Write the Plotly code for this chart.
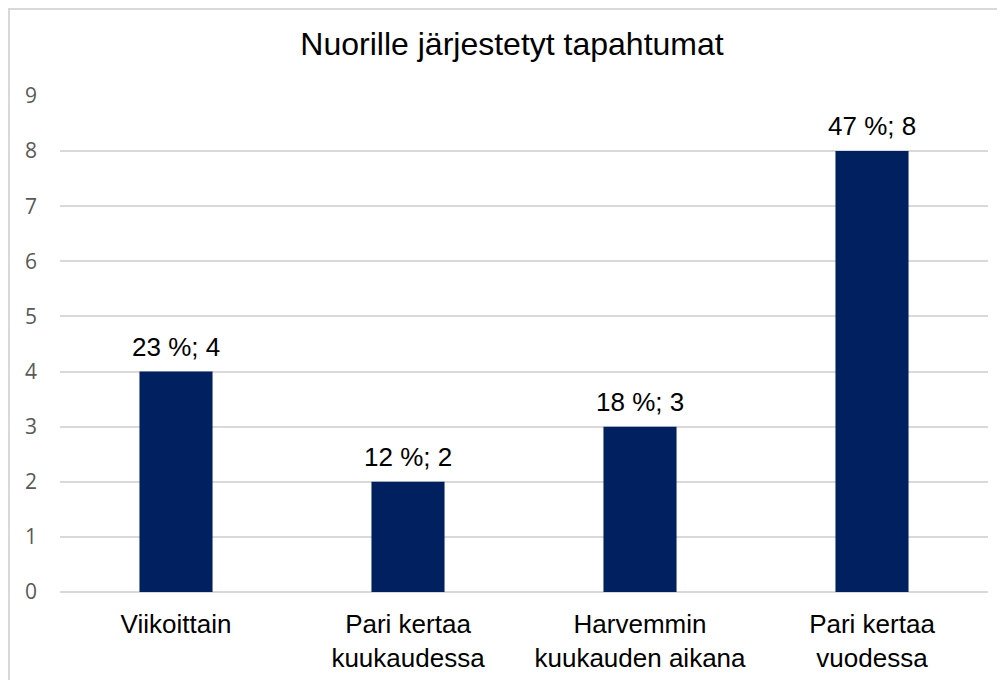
import plotly.graph_objects as go

categories = ["Viikoittain", "Pari kertaa<br>kuukaudessa", "Harvemmin<br>kuukauden aikana", "Pari kertaa<br>vuodessa"]
counts = [4, 2, 3, 8]
percents = [23, 12, 18, 47]
labels = [f"{p} %; {c}" for p, c in zip(percents, counts)]

W, H = 1005, 680
OFF = 8  # page offset of the figure
L, R, T, B = 52, 25, 88, 96
pw, ph = W - L - R, H - T - B

fig = go.Figure(go.Bar(
    x=categories, y=counts,
    marker=dict(color="#002060", line=dict(width=0)),
    width=0.315,
))

for c, v, t in zip(categories, counts, labels):
    fig.add_annotation(x=c, y=v, text=t, showarrow=False, yanchor="bottom",
                       yshift=8, font=dict(family="Liberation Sans, Arial", size=26, color="#000000"))

def px_x(x):
    return (x - OFF - L) / pw

def px_y(y):
    return (H - B - (y - OFF)) / ph

fig.update_layout(
    width=W, height=H,
    margin=dict(l=L, r=R, t=T, b=B),
    paper_bgcolor="white", plot_bgcolor="white",
    title=dict(text="Nuorille järjestetyt tapahtumat", x=(512 - OFF) / W, xanchor="center",
               y=1 - (44 - OFF) / H, yanchor="middle",
               font=dict(family="Liberation Sans, Arial", size=32, color="#000000")),
    showlegend=False,
    xaxis=dict(showgrid=False, showline=False, ticks="", ticklabelstandoff=14,
               tickfont=dict(family="Liberation Sans, Arial", size=26, color="#000000")),
    yaxis=dict(range=[0, 9], dtick=1, showgrid=True, gridcolor="#d9d9d9", gridwidth=1.5,
               zeroline=True, zerolinecolor="#d9d9d9", zerolinewidth=1.5,
               showline=False, ticks="", ticklabelstandoff=22,
               tickfont=dict(family="Open Sans, Liberation Sans", size=21, color="#595959")),
    shapes=[dict(type="rect", xref="paper", yref="paper",
                 x0=px_x(9), x1=px_x(1030), y0=px_y(700), y1=px_y(9),
                 line=dict(color="#d9d9d9", width=2), fillcolor="rgba(0,0,0,0)", layer="below")],
)

fig.write_html("out.html")
